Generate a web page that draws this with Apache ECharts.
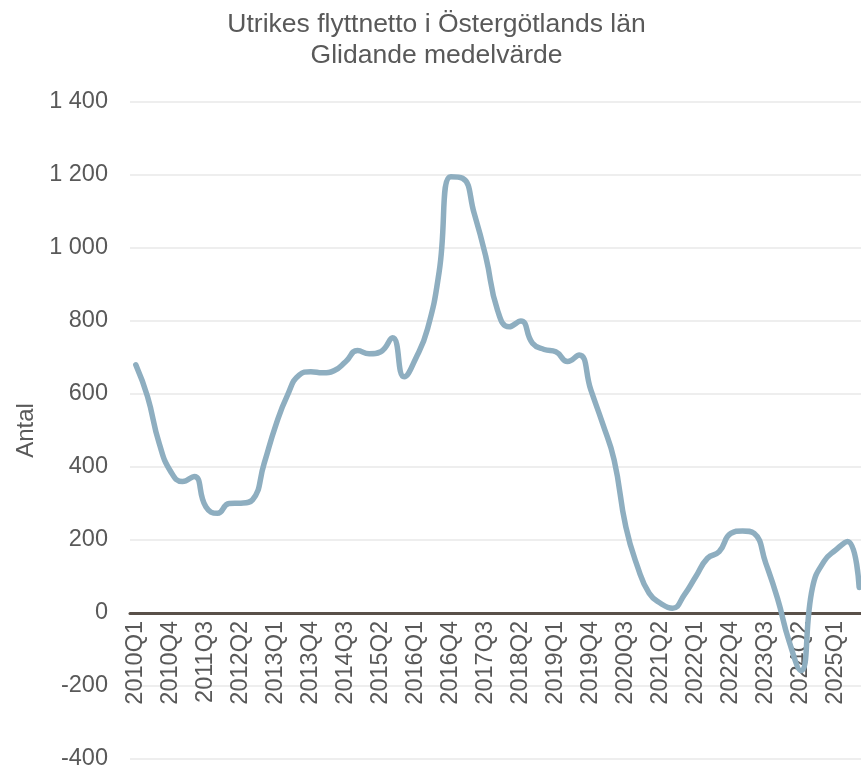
<!DOCTYPE html>
<html>
<head>
<meta charset="utf-8">
<script src="https://cdn.jsdelivr.net/npm/echarts@6/dist/echarts.min.js"></script>
<style>
  html, body { margin: 0; padding: 0; background: #ffffff; }
  #chart { width: 861px; height: 771px; }
</style>
</head>
<body>
<div id="chart"></div>
<script>
// Quarterly categories 2010Q1 .. 2025Q3
const years = [2010, 2011, 2012, 2013, 2014, 2015, 2016, 2017, 2018, 2019, 2020, 2021, 2022, 2023, 2024, 2025];
const quarters = ['Q1', 'Q2', 'Q3', 'Q4'];
const categories = [];
years.forEach(function (y) {
  quarters.forEach(function (q) {
    if (y === 2025 && q === 'Q4') return;
    categories.push(y + q);
  });
});

// Net foreign migration, moving average (Antal)
const netMigration = [
  680, 593, 465, 387, 360, 374, 291, 273,
  300, 301, 310, 410, 515, 597, 652, 661,
  658, 664, 689, 719, 710, 716, 754, 647,
  698, 778, 935, 1195, 1191, 1095, 976, 830,
  784, 800, 739, 722, 716, 689, 707, 611,
  520, 419, 236, 127, 54, 26, 13, 49,
  100, 150, 168, 218, 225, 218, 136, 40,
  -78, -158, 70, 142, 173, 196, 70
];

// Y axis tick values
const yTicks = [-400, -200, 0, 200, 400, 600, 800, 1000, 1200, 1400];

const titleLines = ['Utrikes flyttnetto i Östergötlands län', 'Glidande medelvärde'];
const yAxisTitle = 'Antal';

const textColor = '#595959';
const fontFamily = '"Liberation Sans", Arial, sans-serif';

function formatThousands(v) {
  const s = String(Math.abs(v)).replace(/\B(?=(\d{3})+(?!\d))/g, ' ');
  return (v < 0 ? '-' : '') + s;
}

const yMin = yTicks[0];
const yMax = yTicks[yTicks.length - 1];
const gridTop = 102;
const gridHeight = 657;
// Place the category axis (line + labels) on the zero value
const zeroOffset = -gridHeight * (0 - yMin) / (yMax - yMin);

const chart = echarts.init(document.getElementById('chart'), null, { renderer: 'canvas' });

chart.setOption({
  animation: false,
  backgroundColor: '#ffffff',
  title: {
    text: titleLines.join('\n'),
    left: 431.5,
    textAlign: 'center',
    top: 4,
    textStyle: {
      color: textColor,
      fontFamily: fontFamily,
      fontWeight: 'normal',
      fontSize: 26.5,
      lineHeight: 31
    }
  },
  grid: {
    left: 130,
    top: gridTop,
    width: 735,
    height: gridHeight,
    containLabel: false,
    outerBoundsMode: 'none'
  },
  xAxis: {
    type: 'category',
    data: categories,
    boundaryGap: true,
    position: 'bottom',
    offset: zeroOffset,
    axisLine: {
      onZero: false,
      lineStyle: { color: '#595049', width: 3 }
    },
    axisTick: { show: false },
    axisLabel: {
      interval: 2,
      rotate: 90,
      margin: 8,
      color: textColor,
      fontFamily: fontFamily,
      fontSize: 23.5
    },
    splitLine: { show: false }
  },
  yAxis: {
    type: 'value',
    min: yMin,
    max: yMax,
    interval: 200,
    name: yAxisTitle,
    nameLocation: 'middle',
    nameGap: 84,
    nameTextStyle: {
      color: textColor,
      fontFamily: fontFamily,
      fontSize: 24
    },
    axisLine: { show: false },
    axisTick: { show: false },
    axisLabel: {
      margin: 22,
      color: textColor,
      fontFamily: fontFamily,
      fontSize: 23.5,
      formatter: formatThousands
    },
    splitLine: {
      lineStyle: { color: '#eeeeee', width: 2 }
    }
  },
  series: [{
    type: 'line',
    data: netMigration,
    smooth: true,
    showSymbol: false,
    symbol: 'none',
    clip: false,
    z: 3,
    lineStyle: { color: '#8eaec0', width: 5.5, cap: 'round', join: 'round' }
  }]
});
</script>
</body>
</html>
